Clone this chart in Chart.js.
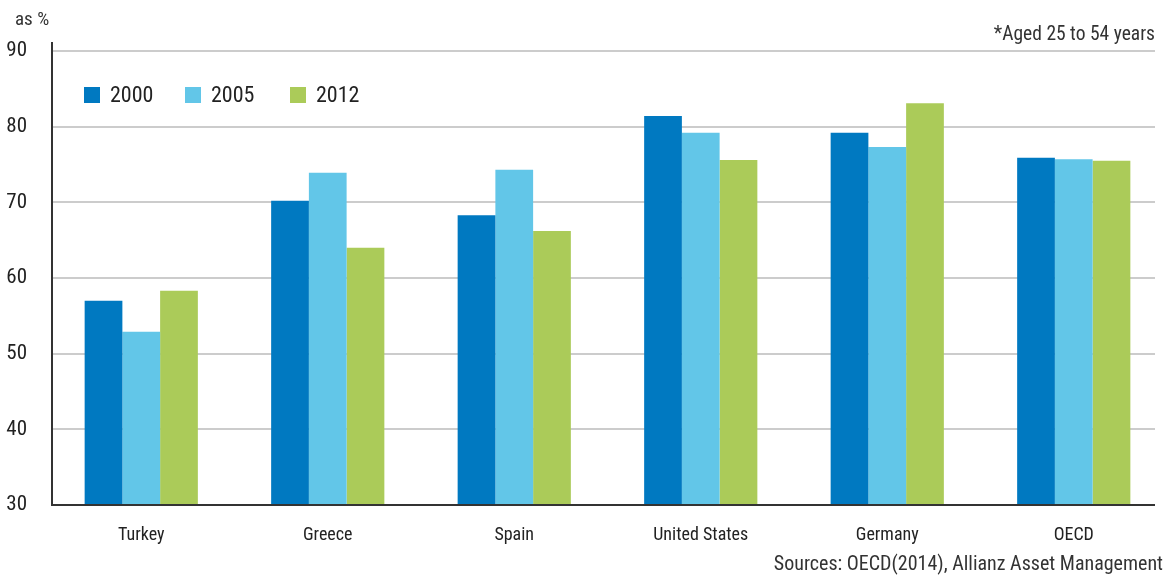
<!DOCTYPE html>
<html>
<head>
<meta charset="utf-8">
<script src="https://cdn.jsdelivr.net/npm/chart.js@4/dist/chart.umd.min.js"></script>
<style>
  html, body { margin: 0; padding: 0; background: #fff; }
  #wrap { position: relative; width: 1176px; height: 578px; }
</style>
</head>
<body>
<div id="wrap"><canvas id="graph" width="1176" height="578"></canvas></div>
<script>
// Данные графика
var categories = ['Turkey', 'Greece', 'Spain', 'United States', 'Germany', 'OECD'];
var years = ['2000', '2005', '2012'];
var values2000 = [57.0, 70.2, 68.3, 81.4, 79.2, 75.9];
var values2005 = [52.9, 73.9, 74.3, 79.2, 77.3, 75.7];
var values2012 = [58.3, 64.0, 66.2, 75.6, 83.1, 75.5];
var yTicks = [30, 40, 50, 60, 70, 80, 90];
var colors = ['#0079c1', '#62c6e8', '#abcb59'];

var FONT = '"Liberation Sans Narrow", "Roboto Condensed", "Open Sans", sans-serif';
var TEXT = '#222222';
var AXIS_LEFT = 52;
var AXIS_RIGHT = 1155;

// Сетка и оси (короче, чем область столбцов)
var gridLines = {
    id: 'gridLines',
    beforeDatasetsDraw: function (chart) {
        var c = chart.ctx;
        var y = chart.scales.y;
        c.save();
        c.strokeStyle = '#cccccc';
        c.lineWidth = 2;
        yTicks.forEach(function (v) {
            if (v === yTicks[0]) return;
            var py = Math.round(y.getPixelForValue(v));
            c.beginPath();
            c.moveTo(AXIS_LEFT, py);
            c.lineTo(AXIS_RIGHT, py);
            c.stroke();
        });
        c.restore();
    },
    afterDatasetsDraw: function (chart) {
        var c = chart.ctx;
        var y = chart.scales.y;
        var top = y.getPixelForValue(yTicks[yTicks.length - 1]);
        var bottom = y.getPixelForValue(yTicks[0]);
        c.save();
        c.strokeStyle = '#333333';
        c.lineWidth = 2;
        c.beginPath();
        c.moveTo(AXIS_LEFT, top - 9);
        c.lineTo(AXIS_LEFT, bottom);
        c.lineTo(AXIS_RIGHT, bottom);
        c.stroke();
        c.restore();
    }
};

// Легенда внутри области графика и подписи
var extras = {
    id: 'extras',
    afterDraw: function (chart) {
        var c = chart.ctx;
        c.save();
        c.font = '22px ' + FONT;
        c.textBaseline = 'middle';
        var x = 84;
        var y = 95;
        chart.data.datasets.forEach(function (ds, i) {
            c.fillStyle = ds.backgroundColor;
            c.fillRect(x, y - 8, 16, 16);
            c.fillStyle = TEXT;
            c.textAlign = 'left';
            c.fillText(ds.label, x + 26, y + 1);
            x += (i === 0 ? 101 : 105);
        });

        c.textBaseline = 'alphabetic';
        c.font = '19px ' + FONT;
        c.fillStyle = '#333333';
        c.textAlign = 'left';
        c.fillText('as %', 15, 25);
        c.textAlign = 'right';
        c.font = '19.5px ' + FONT;
        c.fillText('*Aged 25 to 54 years', 1155, 40);
        c.font = '20px ' + FONT;
        c.fillText('Sources: OECD(2014), Allianz Asset Management', 1163, 570);
        c.restore();
    }
};

var ctx = document.getElementById('graph').getContext('2d');
var chart = new Chart(ctx, {
    type: 'bar',
    data: {
        labels: categories,
        datasets: [
            { label: years[0], data: values2000, backgroundColor: colors[0] },
            { label: years[1], data: values2005, backgroundColor: colors[1] },
            { label: years[2], data: values2012, backgroundColor: colors[2] }
        ]
    },
    options: {
        responsive: false,
        animation: false,
        layout: { padding: { top: 51, right: 9, left: 0, bottom: 0 } },
        datasets: { bar: { categoryPercentage: 0.607, barPercentage: 1.0 } },
        plugins: { legend: { display: false }, tooltip: { enabled: false } },
        scales: {
            x: {
                grid: { display: false },
                border: { display: false },
                ticks: { color: TEXT, font: { family: FONT, size: 18 }, padding: 12 },
                afterFit: function (scale) { scale.height = 73; }
            },
            y: {
                min: 30,
                max: 90,
                afterBuildTicks: function (scale) {
                    scale.ticks = yTicks.map(function (v) { return { value: v }; });
                },
                grid: { display: false },
                border: { display: false },
                ticks: { color: TEXT, font: { family: FONT, size: 21 }, padding: 13 },
                afterFit: function (scale) { scale.width = 48; }
            }
        }
    },
    plugins: [gridLines, extras]
});
</script>
</body>
</html>
